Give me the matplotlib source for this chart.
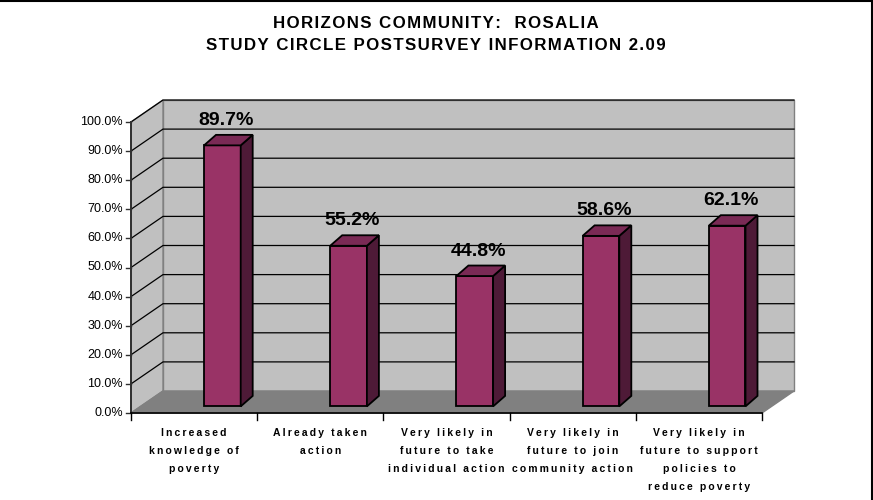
import matplotlib
matplotlib.use("Agg")
import matplotlib.pyplot as plt
from matplotlib.patches import Polygon
from matplotlib.lines import Line2D

# ---------------- data ----------------
title_lines = ["HORIZONS COMMUNITY:  ROSALIA",
               "STUDY CIRCLE POSTSURVEY INFORMATION 2.09"]
categories = [
    ["Increased", "knowledge of", "poverty"],
    ["Already taken", "action"],
    ["Very likely in", "future to take", "individual action"],
    ["Very likely in", "future to join", "community action"],
    ["Very likely in", "future to support", "policies to", "reduce poverty"],
]
values = [89.7, 55.2, 44.8, 58.6, 62.1]
yticks = [0, 10, 20, 30, 40, 50, 60, 70, 80, 90, 100]
ytick_labels = [f"{t:.1f}%" for t in yticks]

# ---------------- styles ----------------
WALL = "#C0C0C0"
FLOOR = "#808080"
EDGE = "#808080"
FRONT = "#993366"
SIDE = "#4E1A37"
TOP = "#7A2A55"
FONT = ["Liberation Sans", "DejaVu Sans"]

W, H = 873, 500
fig = plt.figure(figsize=(W / 100, H / 100), dpi=100)
fig.patch.set_facecolor("white")

# axes: x 0..5 categories (front floor edge), y 0..100 (front)
L, R, B, T = 131, 762, 413, 122
ax = fig.add_axes([L / W, (H - B) / H, (R - L) / W, (B - T) / H])
n = len(values)
ax.set_xlim(0, n)
ax.set_ylim(0, 100)
ax.axis("off")

px_x = n / (R - L)          # data units per pixel (x)
px_y = 100 / (B - T)        # data units per pixel (y)

DX, DY = 32 * px_x, 22 * px_y   # depth offset of the back wall


def poly(pts, fc, ec, lw, z):
    p = Polygon(pts, closed=True, facecolor=fc, edgecolor=ec, linewidth=lw,
                zorder=z, clip_on=False, joinstyle="miter")
    ax.add_patch(p)


def line(xs, ys, c, lw, z):
    ax.add_line(Line2D(xs, ys, color=c, linewidth=lw, zorder=z, clip_on=False))


ymax = yticks[-1]
# back wall, left wall, floor
poly([(DX, DY), (n + DX, DY), (n + DX, ymax + DY), (DX, ymax + DY)], WALL, EDGE, 1.0, 1)
poly([(0, 0), (0, ymax), (DX, ymax + DY), (DX, DY)], WALL, EDGE, 1.0, 1)
poly([(0, 0), (n, 0), (n + DX, DY), (DX, DY)], FLOOR, EDGE, 1.0, 2)

# gridlines (left wall diagonal + back wall horizontal)
for t in yticks[1:]:
    line([0, DX, n + DX], [t, t + DY, t + DY], "black", 0.9, 3)

# value axis and ticks
line([0, 0], [0, ymax], "#303030", 1.4, 4)
for t, lab in zip(yticks, ytick_labels):
    line([-5 * px_x, 0], [t, t], "#303030", 1.0, 4)
    ax.text(-8 * px_x, t, lab, ha="right", va="center", fontsize=9,
            family=FONT, color="black")

# category axis and ticks
line([0, n], [0, 0], "black", 1.2, 4)
for k in range(n + 1):
    line([k, k], [0, -7 * px_y], "black", 1.0, 4)

# bars
off = 73 * px_x
bw = 36.7 * px_x
yb = 6.6 * px_y
bdx, bdy = 12 * px_x, 10.5 * px_y
for i, v in enumerate(values):
    x0 = i + off
    x1 = x0 + bw
    top = yb + v
    poly([(x0, yb), (x1, yb), (x1, top), (x0, top)], FRONT, "black", 1.3, 10)
    poly([(x1, yb), (x1 + bdx, yb + bdy), (x1 + bdx, top + bdy), (x1, top)],
         SIDE, "black", 1.3, 10)
    poly([(x0, top), (x1, top), (x1 + bdx, top + bdy), (x0 + bdx, top + bdy)],
         TOP, "black", 1.3, 10)
    ax.text(x0 + 22 * px_x, top + 25 * px_y, f"{v:.1f}%", ha="center",
            va="center", fontsize=14, fontweight="bold", family=FONT,
            color="black", zorder=12)


# letter-spaced text, as in the reference
def spaced(s, sep="\u2009"):
    return sep.join(s)


for i, lines in enumerate(categories):
    for j, txt in enumerate(lines):
        ax.text(i + 0.5, -(20 + 18 * j) * px_y, spaced(txt), ha="center",
                va="center", fontsize=7.5, fontweight="bold", family=FONT,
                color="black")

# title
fig.text(436 / W, 1 - 24 / H, spaced(title_lines[0], "\u200a"), ha="center",
         va="center", fontsize=12.2, fontweight="bold", family=FONT)
fig.text(436 / W, 1 - 45 / H, spaced(title_lines[1], "\u200a"), ha="center",
         va="center", fontsize=12.2, fontweight="bold", family=FONT)

# chart frame (top and right edges visible)
fig.add_artist(Line2D([0, 1], [1 - 0.5 / H, 1 - 0.5 / H], color="black",
                      linewidth=1.5, transform=fig.transFigure))
fig.add_artist(Line2D([1 - 1.5 / W, 1 - 1.5 / W], [0, 1], color="black",
                      linewidth=1.5, transform=fig.transFigure))

fig.savefig("out.png", dpi=100)
